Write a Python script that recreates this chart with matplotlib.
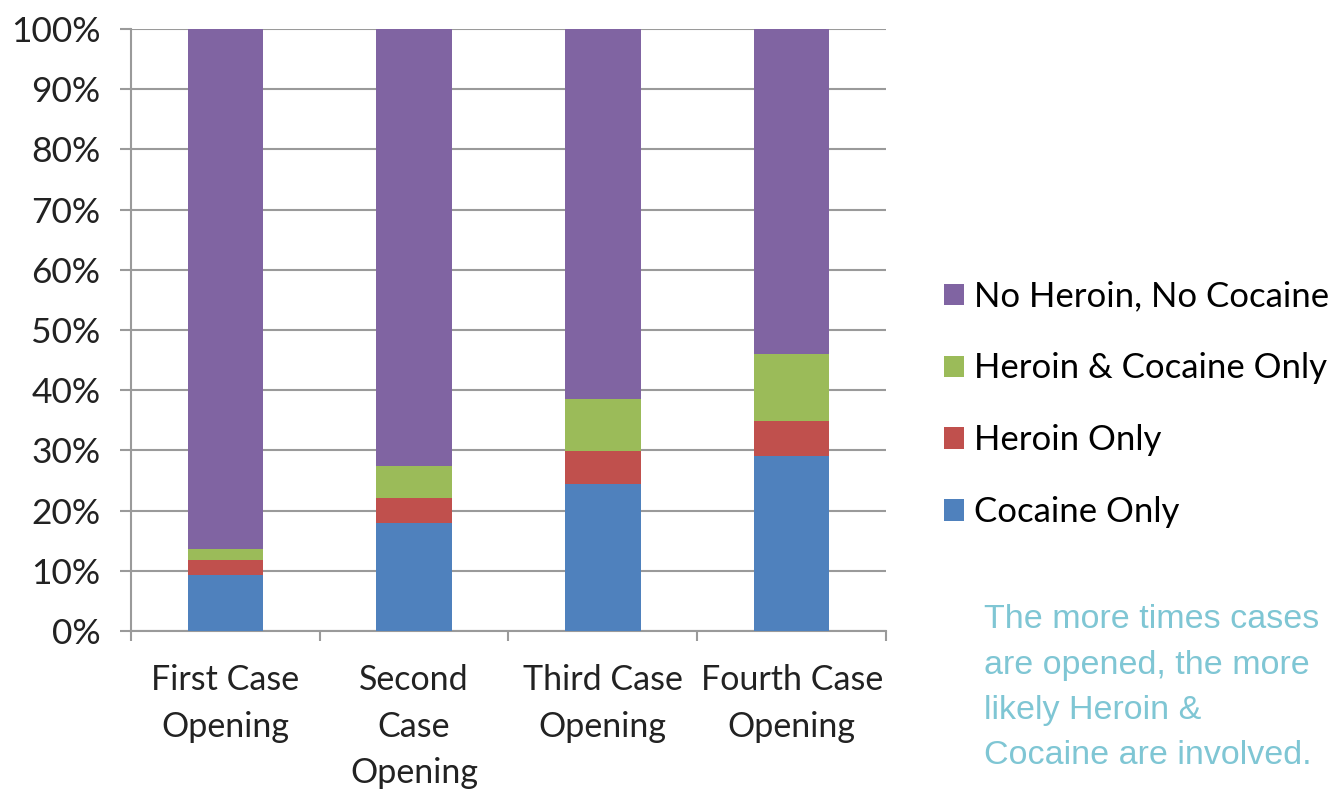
"""Drug involvement by case opening"""
import matplotlib
matplotlib.use('Agg')
import matplotlib.pyplot as plt
from matplotlib.ticker import PercentFormatter

CATEGORIES = ['First Case\nOpening', 'Second\nCase\nOpening',
              'Third Case\nOpening', 'Fourth Case\nOpening']

COCAINE_ONLY = [9.3, 17.9, 24.4, 29.1]
HEROIN_ONLY = [2.5, 4.2, 5.5, 5.8]
HEROIN_COCAINE = [1.8, 5.3, 8.6, 11.1]
NEITHER = [86.4, 72.6, 61.5, 54.0]

SERIES = ['Cocaine Only', 'Heroin Only', 'Heroin & Cocaine Only', 'No Heroin, No Cocaine']
COLORS = ['#4F81BD', '#C0504D', '#9BBB59', '#8064A2']

NOTE = 'The more times cases\nare opened, the more\nlikely Heroin &\nCocaine are involved.'

plt.rcParams['font.family'] = ['Lato', 'DejaVu Sans']

fig = plt.figure(figsize=(13.39, 7.93), dpi=100)
ax = fig.add_axes([0.0978, 0.2043, 0.5639, 0.7591])

x = list(range(len(CATEGORIES)))
bottom = [0.0] * len(x)
handles = []
for vals, name, col in zip([COCAINE_ONLY, HEROIN_ONLY, HEROIN_COCAINE, NEITHER], SERIES, COLORS):
    b = ax.bar(x, vals, width=0.4, bottom=bottom, color=col, label=name, zorder=3)
    handles.append(b)
    bottom = [p + v for p, v in zip(bottom, vals)]

ax.set_xlim(-0.5, 3.5)
ax.set_ylim(0, 100)
ax.set_yticks(range(0, 101, 10))
ax.yaxis.set_major_formatter(PercentFormatter(decimals=0))
ax.grid(axis='y', color='#9a9a9a', linewidth=1.5, zorder=0)

for s in ['top', 'right']:
    ax.spines[s].set_visible(False)
for s in ['left', 'bottom']:
    ax.spines[s].set_color('#9a9a9a')
    ax.spines[s].set_linewidth(1.5)

ax.set_xticks(x)
ax.set_xticklabels(CATEGORIES, fontsize=24.5, color='#222222', linespacing=1.55)
ax.set_xticks([-0.5, 0.5, 1.5, 2.5, 3.5], minor=True)
ax.tick_params(axis='x', which='major', length=0, pad=24)
ax.tick_params(axis='x', which='minor', length=7, width=1.5, color='#9a9a9a', direction='out')
ax.tick_params(axis='y', length=8, width=1.5, color='#9a9a9a', labelsize=25.5, labelcolor='#222222', pad=14)

fig.legend(handles[::-1], SERIES[::-1], loc='center left', bbox_to_anchor=(0.6815, 0.49),
           frameon=False, fontsize=25, handlelength=0.57, handleheight=0.57,
           handletextpad=0.3, labelspacing=1.15)

fig.text(0.735, 0.238, NOTE, fontsize=24.5, color='#7fc6d4', family='Liberation Sans',
         va='top', ha='left', linespacing=1.6)

fig.savefig('out.png', dpi=100)
